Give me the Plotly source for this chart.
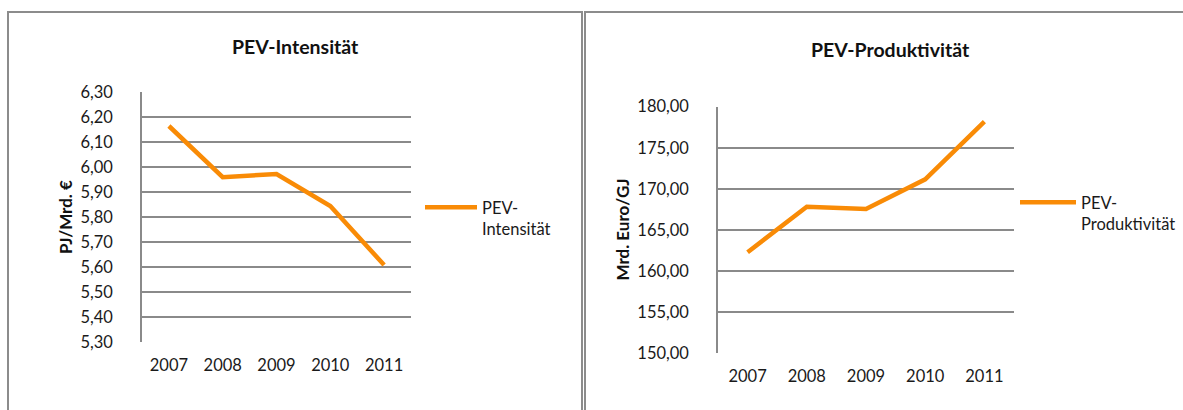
import plotly.graph_objects as go

W, H = 1183, 410

years = ["2007", "2008", "2009", "2010", "2011"]
intensitaet = [6.164, 5.959, 5.972, 5.844, 5.608]
produktivitaet = [162.3, 167.84, 167.56, 171.17, 178.18]

title_left = "PEV-Intensität"
title_right = "PEV-Produktivität"
ytitle_left = "PJ/Mrd. €"
ytitle_right = "Mrd. Euro/GJ"
legend_left = "PEV-<br>Intensität"
legend_right = "PEV-<br>Produktivität"

ORANGE = "#F98B06"
GRID = "#8a8a8a"
FONT = "Lato"
TXT = "#1a1a1a"

def px(x):
    return x / W

def py(y):
    return 1 - y / H

fig = go.Figure()
fig.add_trace(go.Scatter(x=years, y=intensitaet, mode="lines", name=legend_left,
                         line=dict(color=ORANGE, width=4.5), xaxis="x", yaxis="y",
                         legend="legend"))
fig.add_trace(go.Scatter(x=years, y=produktivitaet, mode="lines", name=legend_right,
                         line=dict(color=ORANGE, width=4.5), xaxis="x2", yaxis="y2",
                         legend="legend2"))

axis_font = dict(family=FONT, size=16.5, color=TXT)

common_x = dict(type="category", range=[-0.5, 4.5], showgrid=False, zeroline=False,
                showline=False, ticks="", tickfont=axis_font, fixedrange=True,
                automargin=False)
common_y = dict(showgrid=True, gridcolor=GRID, gridwidth=1.5, zeroline=False,
                showline=True, linecolor=GRID, linewidth=1.5, ticks="",
                tickformat=".2f", tickfont=axis_font, fixedrange=True,
                automargin=False)

fig.update_layout(
    template="none",
    width=W, height=H,
    autosize=False,
    margin=dict(l=0, r=0, t=0, b=0, pad=0, autoexpand=False),
    paper_bgcolor="white", plot_bgcolor="white",
    separators=",.",
    font=dict(family=FONT, size=16.5, color=TXT),
    xaxis=dict(domain=[px(142), px(411)], anchor="y", ticklabelstandoff=11, **common_x),
    yaxis=dict(domain=[py(342), py(92)], anchor="x", range=[5.3, 6.3], dtick=0.1,
               ticklabelstandoff=24, **common_y),
    xaxis2=dict(domain=[px(718), px(1014)], anchor="y2", ticklabelstandoff=11, **common_x),
    yaxis2=dict(domain=[py(353.3), py(106.7)], anchor="x2", range=[150, 180], dtick=5,
                ticklabelstandoff=24, **common_y),
    legend=dict(x=px(420), y=py(190), xanchor="left", yanchor="top", valign="top",
                font=dict(family=FONT, size=16.5, color=TXT), bgcolor="rgba(0,0,0,0)",
                itemwidth=52),
    legend2=dict(x=px(1015), y=py(185), xanchor="left", yanchor="top", valign="top",
                 font=dict(family=FONT, size=16.5, color=TXT), bgcolor="rgba(0,0,0,0)",
                 itemwidth=56),
    showlegend=True,
)

# chart titles and axis titles
ann = dict(xref="paper", yref="paper", showarrow=False, xanchor="center", yanchor="middle")
fig.add_annotation(x=px(295), y=py(47), text="<b>" + title_left + "</b>",
                   font=dict(family=FONT, size=19.5, color="#111"), **ann)
fig.add_annotation(x=px(890), y=py(49), text="<b>" + title_right + "</b>",
                   font=dict(family=FONT, size=19.5, color="#111"), **ann)
fig.add_annotation(x=px(65), y=py(217), text="<b>" + ytitle_left + "</b>", textangle=-90,
                   font=dict(family=FONT, size=17, color="#111"), **ann)
fig.add_annotation(x=px(621.5), y=py(230), text="<b>" + ytitle_right + "</b>", textangle=-90,
                   font=dict(family=FONT, size=17, color="#111"), **ann)

# chart frames
frame = dict(color="#8c8c8c", width=2)
fig.add_shape(type="rect", xref="paper", yref="paper", x0=px(8), x1=px(582), y0=py(H + 5), y1=py(12),
              line=frame, fillcolor="rgba(0,0,0,0)", layer="below")
fig.add_shape(type="rect", xref="paper", yref="paper", x0=px(585), x1=px(W + 5), y0=py(H + 5), y1=py(12),
              line=frame, fillcolor="rgba(0,0,0,0)", layer="below")

fig.write_html("out.html", config={"responsive": False, "displayModeBar": False},
               post_script="document.body.style.margin='0';document.body.style.overflow='hidden';")
